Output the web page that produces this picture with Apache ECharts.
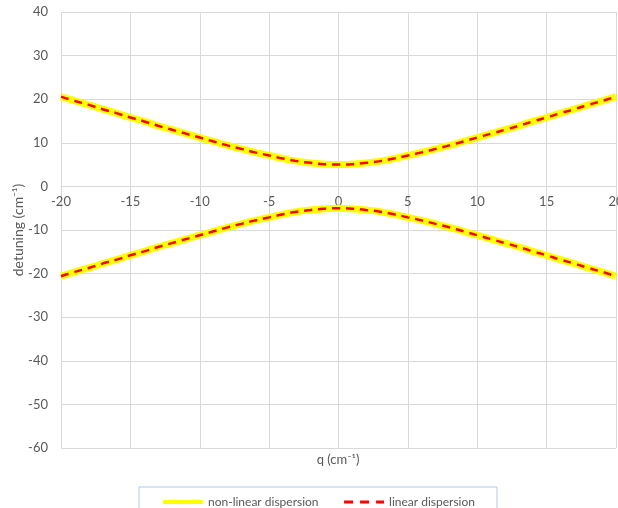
<html>
<head>
<meta charset="utf-8" />
<title>Dispersion</title>
<script src="https://cdn.jsdelivr.net/npm/echarts@6/dist/echarts.min.js"></script>
<style type="text/css">
html, body { margin: 0; padding: 0; background: #fff; }
#echarts { width: 618px; height: 508px; }
</style>
</head>
<body>
<div id="echarts"></div>
<script type="text/javascript">

var myChart = echarts.init(document.getElementById("echarts"));

// q values (cm-1)
var qValues = [-20, -19, -18, -17, -16, -15, -14, -13, -12, -11, -10, -9, -8, -7, -6, -5, -4, -3, -2, -1,
    0, 1, 2, 3, 4, 5, 6, 7, 8, 9, 10, 11, 12, 13, 14, 15, 16, 17, 18, 19, 20];
// upper and lower branch
var upperBranch = [20.6, 19.6, 18.7, 17.7, 16.8, 15.8, 14.9, 13.9, 13.0, 12.1, 11.2, 10.3, 9.4, 8.6, 7.8, 7.1, 6.4, 5.8, 5.4, 5.1,
    5.0, 5.1, 5.4, 5.8, 6.4, 7.1, 7.8, 8.6, 9.4, 10.3, 11.2, 12.1, 13.0, 13.9, 14.9, 15.8, 16.8, 17.7, 18.7, 19.6, 20.6];
var lowerBranch = [-20.6, -19.6, -18.7, -17.7, -16.8, -15.8, -14.9, -13.9, -13.0, -12.1, -11.2, -10.3, -9.4, -8.6, -7.8, -7.1, -6.4, -5.8, -5.4, -5.1,
    -5.0, -5.1, -5.4, -5.8, -6.4, -7.1, -7.8, -8.6, -9.4, -10.3, -11.2, -12.1, -13.0, -13.9, -14.9, -15.8, -16.8, -17.7, -18.7, -19.6, -20.6];
var seriesNames = ['non-linear dispersion', 'linear dispersion'];

function pairs(ys) {
    return qValues.map(function (q, i) { return [q, ys[i]]; });
}

var fontFamily = 'Lato, "Open Sans", sans-serif';
var textColor = '#595959';
var gridColor = '#d9d9d9';

// grid box; the x axis sits on y = 0, so shift it up from the bottom edge
var gridTop = 12, gridBottom = 60, chartHeight = 508;
var yMin = -60, yMax = 40;
var zeroShift = (chartHeight - gridTop - gridBottom) * (0 - yMin) / (yMax - yMin);

function yellowLine(ys) {
    return {
        name: seriesNames[0],
        type: 'line',
        showSymbol: false,
        symbol: 'none',
        smooth: true,
        lineStyle: { color: '#ffff00', width: 7 },
        itemStyle: { color: '#ffff00' },
        data: pairs(ys),
        z: 2
    };
}
function redLine(ys) {
    return {
        name: seriesNames[1],
        type: 'line',
        showSymbol: false,
        symbol: 'none',
        smooth: true,
        lineStyle: { color: '#ff0000', width: 2.5, type: [8, 6] },
        itemStyle: { color: '#ff0000' },
        data: pairs(ys),
        z: 3
    };
}

var option = {
    animation: false,
    textStyle: { fontFamily: fontFamily },
    title: {
        text: 'q (cm\u207B\u00B9)',
        left: 338,
        top: 453,
        textAlign: 'center',
        padding: 0,
        textStyle: { color: textColor, fontSize: 13, fontWeight: 'normal', fontFamily: fontFamily }
    },
    grid: {
        left: 61,
        right: 2,
        top: gridTop,
        bottom: gridBottom,
        outerBoundsMode: 'none'
    },
    legend: {
        data: [
            { name: seriesNames[0], lineStyle: { width: 4 } },
            { name: seriesNames[1], lineStyle: { width: 3, type: [9, 7] } }
        ],
        left: 139,
        top: 487,
        width: 353,
        padding: [9, 22, 8, 22],
        itemGap: 24,
        itemWidth: 40,
        itemHeight: 8,
        itemStyle: { opacity: 0 },
        borderColor: '#b4c7e7',
        borderWidth: 1,
        textStyle: { color: textColor, fontSize: 12, fontFamily: fontFamily }
    },
    xAxis: {
        type: 'value',
        min: -20,
        max: 20,
        interval: 5,
        position: 'bottom',
        offset: -zeroShift,
        axisLine: { show: true, onZero: false, lineStyle: { color: gridColor } },
        axisTick: { show: false },
        axisLabel: { color: textColor, fontSize: 13, margin: 9 },
        splitLine: { lineStyle: { color: gridColor } }
    },
    yAxis: {
        type: 'value',
        min: yMin,
        max: yMax,
        interval: 10,
        name: 'detuning (cm\u207B\u00B9)',
        nameLocation: 'middle',
        nameGap: 36,
        nameMoveOverlap: false,
        nameTextStyle: { color: textColor, fontSize: 14 },
        axisLine: { show: false, onZero: false },
        axisTick: { show: false },
        axisLabel: { color: textColor, fontSize: 13, margin: 13 },
        splitLine: { lineStyle: { color: gridColor } }
    },
    series: [
        yellowLine(upperBranch),
        yellowLine(lowerBranch),
        redLine(upperBranch),
        redLine(lowerBranch)
    ]
};

myChart.setOption(option);

</script>
</body>
</html>
